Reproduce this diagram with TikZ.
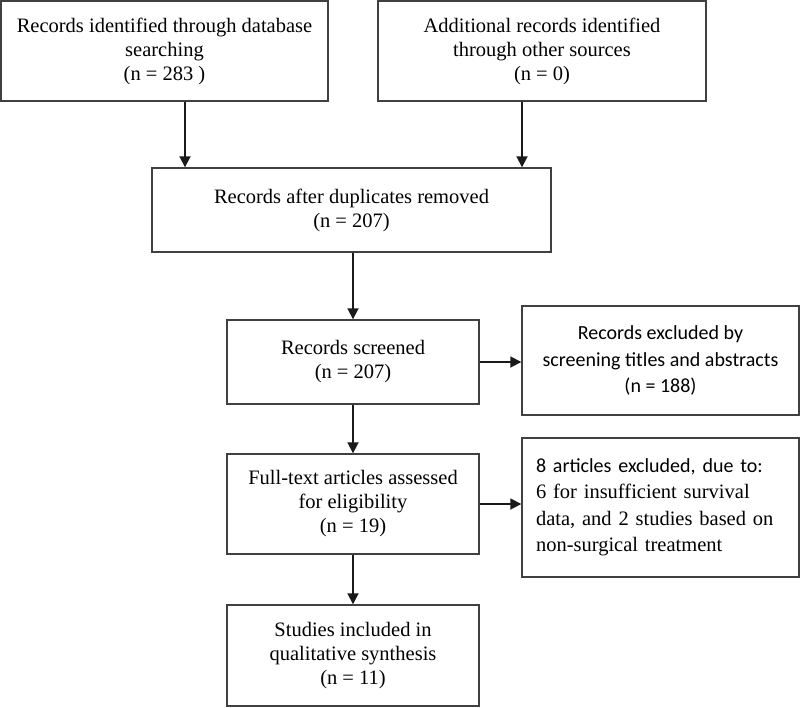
\documentclass[tikz,border=0pt]{standalone}
\usepackage{fontspec}
\setmainfont{Liberation Serif}
\newfontfamily\calfont{Carlito}
\usetikzlibrary{arrows.meta}
\definecolor{frame}{HTML}{404040}
\definecolor{ink}{HTML}{1A1A1A}
\tikzset{
  box/.style={draw=frame, line width=1.4pt, align=center, inner sep=4pt,
    font=\fontsize{20.5}{24}\selectfont},
  calbox/.style={box, font=\calfont\fontsize{20}{26.5}\selectfont},
  arr/.style={-{Triangle[length=11pt,width=11pt]}, draw=ink, line width=1.8pt}
}
\begin{document}
\begin{tikzpicture}[x=1pt,y=-1pt]
  \useasboundingbox (0,0) rectangle (800,707);

  % identification
  \node[box, minimum width=327pt, minimum height=100pt] (ident) at (164.5,51)
    {Records identified through database\\ searching\\ (n = 283 )};
  \node[box, minimum width=328pt, minimum height=100pt] (other) at (542,51)
    {Additional records identified\\ through other sources\\ (n = 0)};
  \node[box, minimum width=399pt, minimum height=84pt] (dedup) at (351.5,210)
    {Records after duplicates removed\\ (n = 207)};

  % screening and eligibility
  \node[box, minimum width=252pt, minimum height=84pt] (screen) at (353,362)
    {Records screened\\ (n = 207)};
  \node[calbox, minimum width=277pt, minimum height=109pt] (excl) at (660.5,360.5)
    {Records excluded by\\ screening titles and abstracts\\ (n = 188)};
  \node[box, minimum width=252pt, minimum height=100pt] (full) at (353,504)
    {Full-text articles assessed\\ for eligibility\\ (n = 19)};
  \node[box, font=\fontsize{20.5}{26.5}\selectfont, align=left, inner xsep=14pt,
    text width=249pt, minimum height=139pt] (excfull) at (660.5,507.5)
    {{\calfont\fontsize{20}{26.5}\selectfont 8 articles excluded, due to:}\\
     6 for insufficient survival\\ data, and 2 studies based on\\ non-surgical treatment};
  \node[box, minimum width=252pt, minimum height=101pt] (incl) at (353,655.5)
    {Studies included in\\ qualitative synthesis\\ (n = 11)};

  \draw[arr] ([xshift=20.5pt]ident.south) -- ([xshift=20.5pt]ident.south |- dedup.north);
  \draw[arr] ([xshift=-20pt]other.south) -- ([xshift=-20pt]other.south |- dedup.north);
  \draw[arr] (screen.north |- dedup.south) -- (screen.north);
  \draw[arr] (screen.east) -- (screen.east -| excl.west);
  \draw[arr] (screen.south) -- (full.north);
  \draw[arr] (full.east) -- (full.east -| excfull.west);
  \draw[arr] (full.south) -- (incl.north);
\end{tikzpicture}
\end{document}
